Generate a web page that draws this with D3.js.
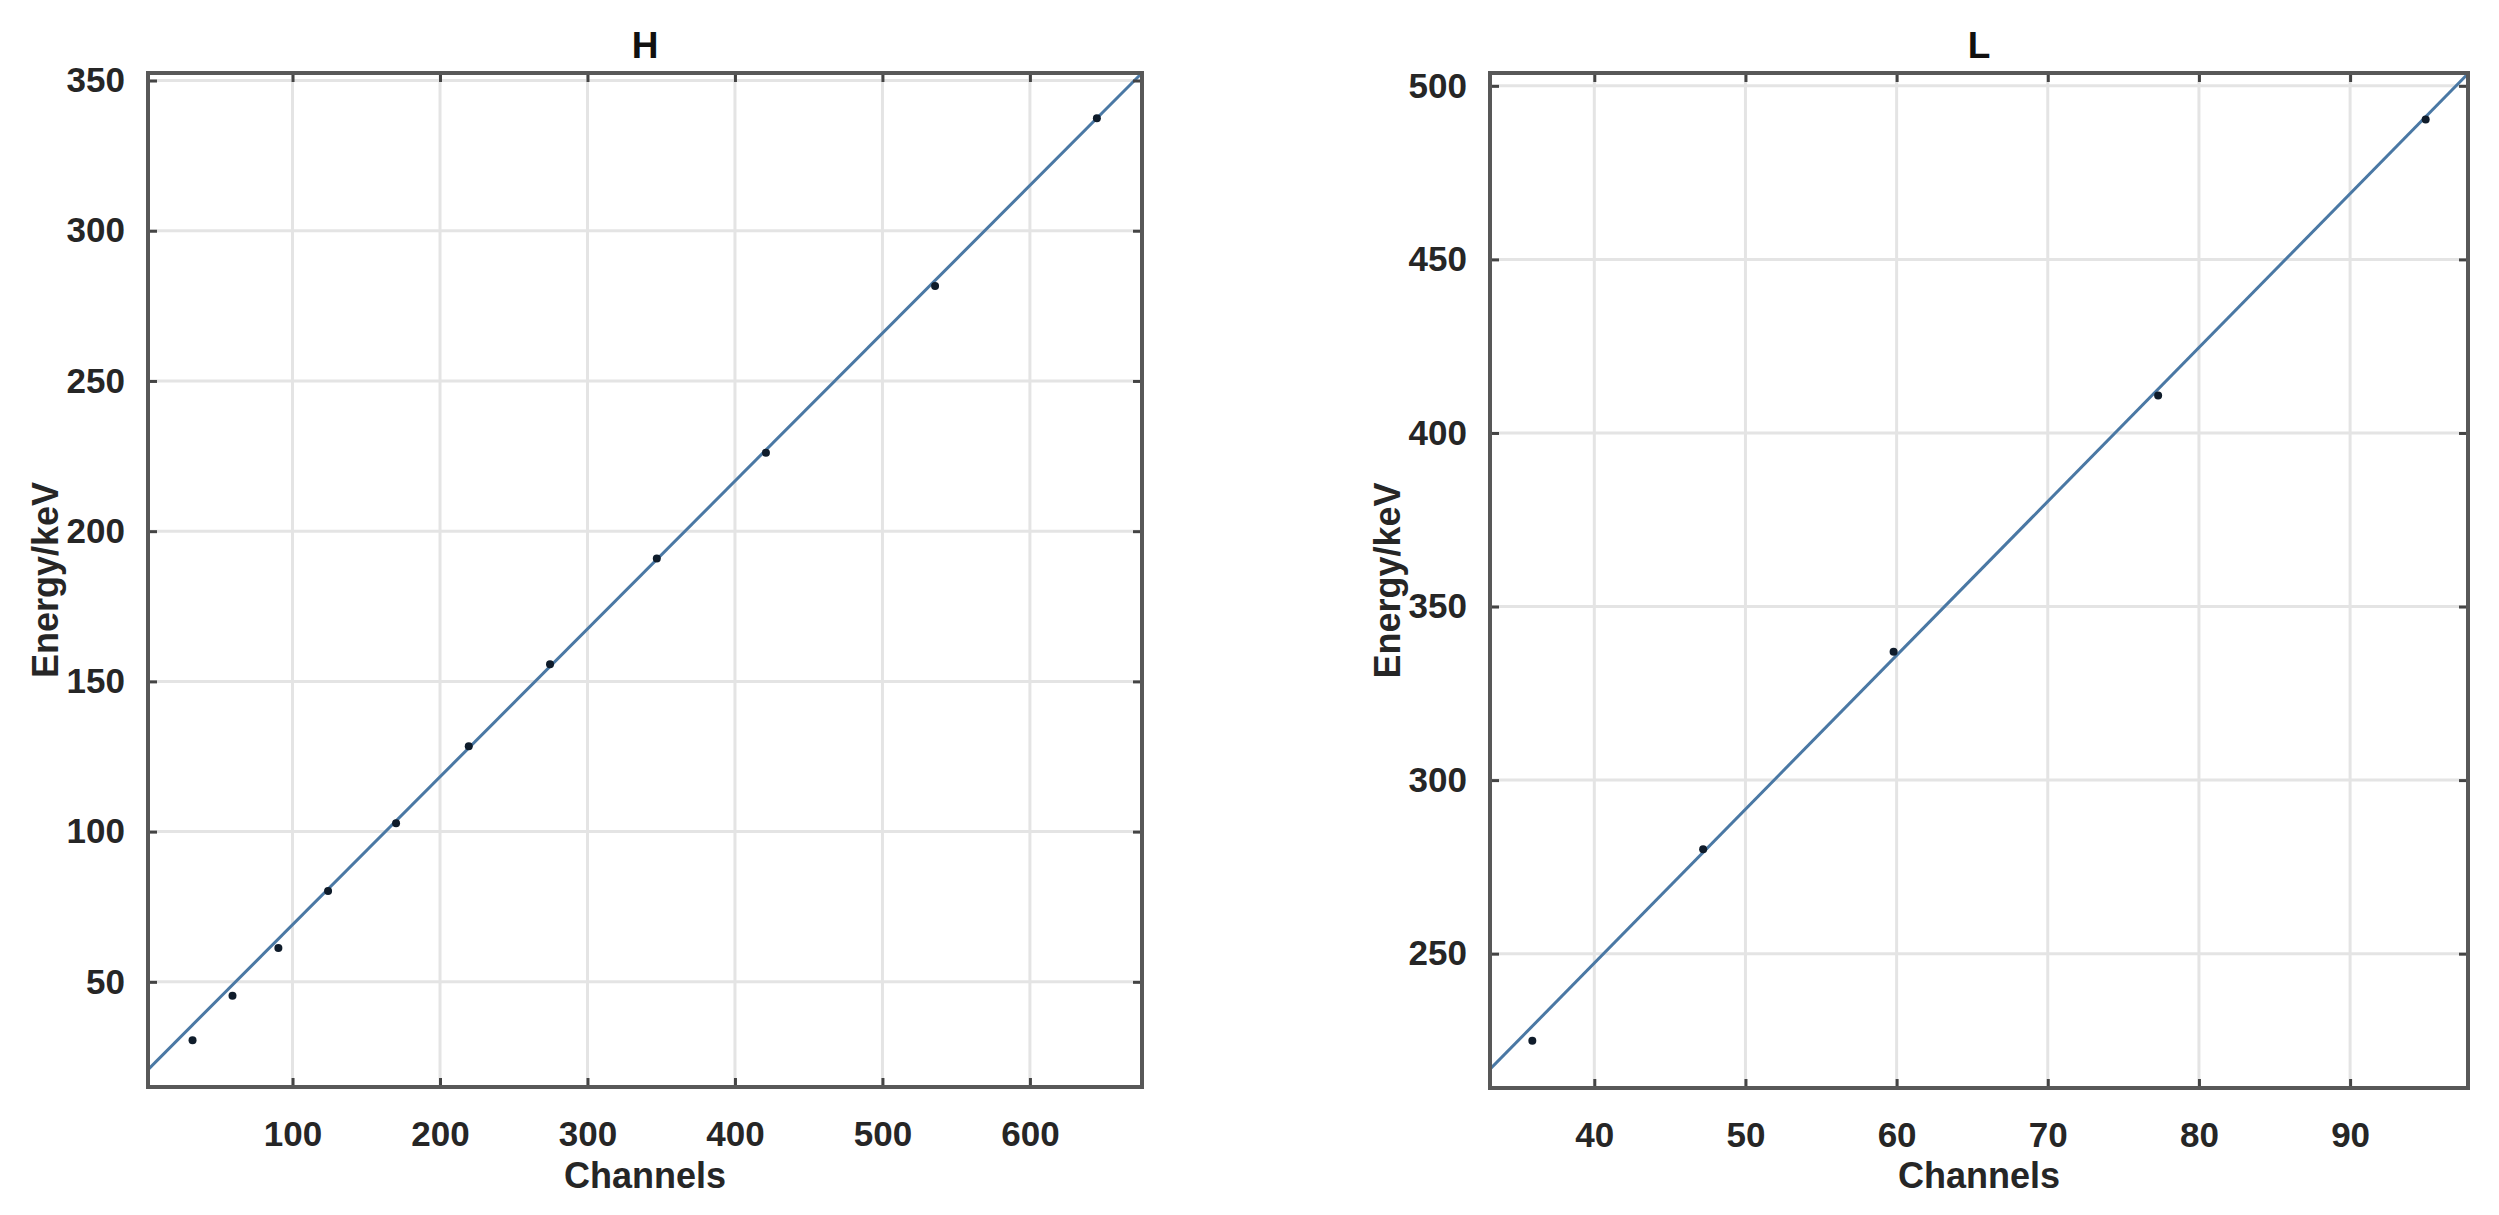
<!DOCTYPE html>
<html>
<head>
<meta charset="utf-8">
<script src="https://cdn.jsdelivr.net/npm/d3@7"></script>
<style>
  html, body { margin: 0; padding: 0; background: #ffffff; }
  svg { display: block; }
  text { font-family: "Liberation Sans", Arial, Helvetica, sans-serif; }
</style>
</head>
<body>
<script>
// ---------- DATA ----------
const titleH = "H";
const channelsH = [32.2, 59.3, 90.4, 124.1, 170.2, 219.5, 274.6, 347, 421, 535.7, 645.4];
const energyH   = [30.6, 45.4, 61.3, 80.2, 102.8, 128.4, 155.7, 190.9, 226.1, 281.6, 337.4];
const fitH      = [[2, 20.8], [676, 352.5]];
const xDomainH  = [2, 676];
const yDomainH  = [15, 352.5];
const xTicksH   = [100, 200, 300, 400, 500, 600];
const yTicksH   = [50, 100, 150, 200, 250, 300, 350];

const titleL = "L";
const channelsL = [35.9, 47.2, 59.8, 77.3, 95.0];
const energyL   = [224.9, 280.1, 337.0, 410.8, 490.3];
const fitL      = [[33.1, 216.7], [97.8, 503.5]];
const xDomainL  = [33.1, 97.8];
const yDomainL  = [211.3, 503.7];
const xTicksL   = [40, 50, 60, 70, 80, 90];
const yTicksL   = [250, 300, 350, 400, 450, 500];

const xLabel = "Channels";
const yLabel = "Energy/keV";

// ---------- DRAW ----------
const W = 2499, H = 1215;
const svg = d3.select("body").append("svg").attr("width", W).attr("height", H);
svg.append("rect").attr("width", W).attr("height", H).attr("fill", "#ffffff");

function panel(id, box, title, xs, ys, fit, xDom, yDom, xT, yT) {
  const x = d3.scaleLinear().domain(xDom).range([box.left, box.right]);
  const y = d3.scaleLinear().domain(yDom).range([box.bottom, box.top]);
  const g = svg.append("g");

  g.append("clipPath").attr("id", "clip" + id)
    .append("rect").attr("x", box.left).attr("y", box.top)
    .attr("width", box.right - box.left).attr("height", box.bottom - box.top);

  // grid
  g.append("g").selectAll("line").data(xT).join("line")
    .attr("x1", d => x(d)).attr("x2", d => x(d))
    .attr("y1", box.top).attr("y2", box.bottom)
    .attr("stroke", "#e4e4e4").attr("stroke-width", 3);
  g.append("g").selectAll("line").data(yT).join("line")
    .attr("y1", d => y(d)).attr("y2", d => y(d))
    .attr("x1", box.left).attr("x2", box.right)
    .attr("stroke", "#e4e4e4").attr("stroke-width", 3);

  // fit line
  g.append("path").datum(fit)
    .attr("clip-path", `url(#clip${id})`)
    .attr("d", d3.line().x(d => x(d[0])).y(d => y(d[1])))
    .attr("fill", "none").attr("stroke", "#4a78a4").attr("stroke-width", 3);

  // points
  g.append("g").selectAll("circle").data(xs.map((v, i) => [v, ys[i]])).join("circle")
    .attr("cx", d => x(d[0])).attr("cy", d => y(d[1])).attr("r", 4)
    .attr("fill", "#0f1c2b");

  // axes (bottom/left with labels, top/right ticks only)
  const tickLen = 9;
  const axB = d3.axisBottom(x).tickValues(xT).tickSizeInner(-tickLen).tickSizeOuter(0).tickPadding(25 + tickLen);
  const axL = d3.axisLeft(y).tickValues(yT).tickSizeInner(-tickLen).tickSizeOuter(0).tickPadding(14 + tickLen);
  const axT = d3.axisTop(x).tickValues(xT).tickSizeInner(-tickLen).tickSizeOuter(0).tickFormat("");
  const axR = d3.axisRight(y).tickValues(yT).tickSizeInner(-tickLen).tickSizeOuter(0).tickFormat("");

  function style(sel) {
    sel.select(".domain").remove();
    sel.selectAll(".tick line").attr("stroke", "#444").attr("stroke-width", 3);
    sel.selectAll(".tick text").attr("fill", "#262626")
      .attr("font-size", 35).attr("font-weight", "bold")
      .attr("font-family", '"Liberation Sans", Arial, sans-serif');
  }
  g.append("g").attr("transform", `translate(0,${box.bottom})`).call(axB).call(style);
  g.append("g").attr("transform", `translate(${box.left},0)`).call(axL).call(style);
  g.append("g").attr("transform", `translate(0,${box.top})`).call(axT).call(style);
  g.append("g").attr("transform", `translate(${box.right},0)`).call(axR).call(style);

  // box
  g.append("rect").attr("x", box.left).attr("y", box.top)
    .attr("width", box.right - box.left).attr("height", box.bottom - box.top)
    .attr("fill", "none").attr("stroke", "#585858").attr("stroke-width", 4);

  // labels
  const cx = (box.left + box.right) / 2;
  const cy = (box.top + box.bottom) / 2;
  g.append("text").attr("x", cx).attr("y", 58).attr("text-anchor", "middle")
    .attr("font-size", 37).attr("font-weight", "bold").attr("fill", "#111")
    .text(title);
  g.append("text").attr("x", cx).attr("y", 1188).attr("text-anchor", "middle")
    .attr("font-size", 36).attr("font-weight", "bold").attr("fill", "#262626")
    .text(xLabel);
  g.append("text").attr("transform", `translate(${box.left - 90},${cy}) rotate(-90)`)
    .attr("text-anchor", "middle")
    .attr("font-size", 36).attr("font-weight", "bold").attr("fill", "#262626")
    .text(yLabel);
}

panel("H", {left: 148, right: 1142, top: 73, bottom: 1087}, titleH,
  channelsH, energyH, fitH, xDomainH, yDomainH, xTicksH, yTicksH);
panel("L", {left: 1490, right: 2468, top: 73, bottom: 1088}, titleL,
  channelsL, energyL, fitL, xDomainL, yDomainL, xTicksL, yTicksL);
</script>
</body>
</html>
